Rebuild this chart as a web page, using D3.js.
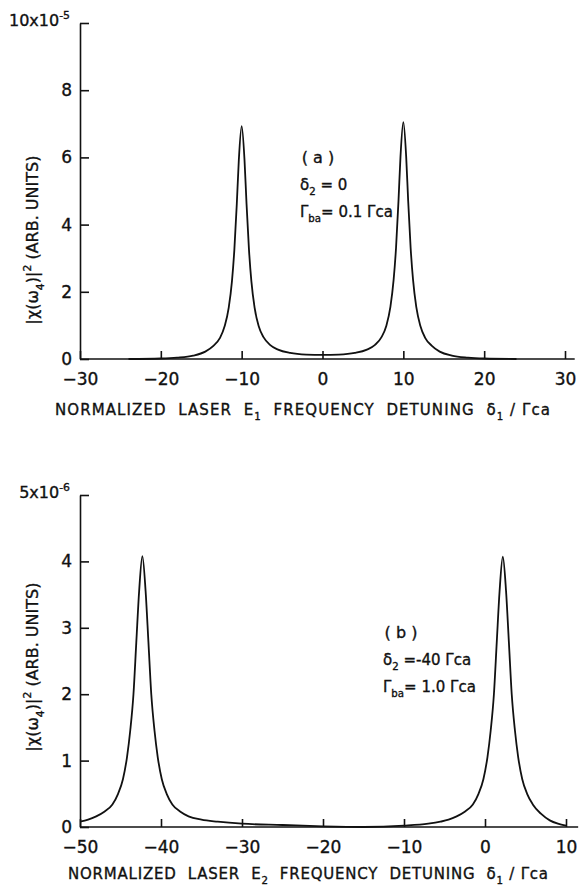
<!DOCTYPE html>
<html>
<head>
<meta charset="utf-8">
<script src="https://cdnjs.cloudflare.com/ajax/libs/d3/7.8.5/d3.min.js"></script>
<style>
  body { margin: 0; background: #fff; }
  svg { display: block; }
  text { font-family: "DejaVu Sans", sans-serif; fill: #111; stroke: #111; stroke-width: 0.35; }
  .domain, .tick line { stroke: #111; stroke-width: 1.6; }
</style>
</head>
<body>
<div class="chart"></div>
<script>
// panel (a): delta2 = 0, Gamma_ba = 0.1 Gamma_ca   (y in units of 1e-5)
var xA = [-24, -20, -18, -16, -14.5, -13.5, -12.7, -12.1, -11.6, -11.2, -10.9, -10.6, -10.35, -10,
          -9.65, -9.4, -9.1, -8.8, -8.4, -7.9, -7.3, -6.5, -5.5, -4, -2, 0,
          2, 4, 5.5, 6.5, 7.3, 7.9, 8.4, 8.8, 9.1, 9.4, 9.65, 10,
          10.35, 10.6, 10.9, 11.2, 11.6, 12.1, 12.7, 13.5, 14.5, 16, 18, 20, 24];
var yA = [0, 0.015, 0.04, 0.1, 0.22, 0.39, 0.62, 0.98, 1.53, 2.32, 3.27, 4.63, 5.93, 6.93,
          5.93, 4.63, 3.27, 2.32, 1.53, 0.98, 0.65, 0.42, 0.28, 0.18, 0.13, 0.12,
          0.13, 0.18, 0.28, 0.42, 0.65, 0.99, 1.55, 2.36, 3.32, 4.7, 6.03, 7.05,
          6.03, 4.7, 3.32, 2.36, 1.55, 0.99, 0.63, 0.4, 0.22, 0.1, 0.04, 0.015, 0];

// panel (b): delta2 = -40 Gamma_ca, Gamma_ba = 1.0 Gamma_ca   (y in units of 1e-6)
var xB = [-50, -49, -48, -47, -46, -45.3, -44.7, -44.2, -43.8, -43.4, -43.05, -42.7, -42.3,
          -41.9, -41.55, -41.2, -40.8, -40.4, -39.9, -39.3, -38.6, -37.6, -36.6, -35, -33, -30, -25, -20, -15,
          -10, -7, -5.5, -4.5, -3.5, -2.5, -1.5, -0.8, -0.2, 0.3, 0.7, 1.1, 1.45, 1.8, 2.2,
          2.6, 2.95, 3.3, 3.7, 4.1, 4.6, 5.2, 5.9, 6.9, 8, 9, 10];
var yB = [0.08, 0.11, 0.16, 0.23, 0.34, 0.5, 0.72, 1.05, 1.45, 2.0, 2.78, 3.55, 4.08,
          3.55, 2.78, 2.0, 1.45, 1.05, 0.72, 0.5, 0.34, 0.23, 0.16, 0.11, 0.08, 0.05, 0.03, 0.01, 0,
          0.02, 0.05, 0.08, 0.11, 0.16, 0.23, 0.34, 0.5, 0.72, 1.05, 1.45, 2.0, 2.78, 3.55, 4.07,
          3.55, 2.78, 2.0, 1.45, 1.05, 0.72, 0.5, 0.34, 0.2, 0.1, 0.05, 0.02];

var xTicksA = [-30, -20, -10, 0, 10, 20, 30];
var yTicksA = [0, 2, 4, 6, 8, 10];
var xTicksB = [-50, -40, -30, -20, -10, 0, 10];
var yTicksB = [0, 1, 2, 3, 4, 5];

var svg = d3.select('.chart').append('svg')
            .attr('width', 579)
            .attr('height', 888);

// writes a text made of [string, 'sub'|'sup'|undefined] pieces
function rich(g, parts, size) {
  var t = g.append('text').attr('font-size', size).style('white-space', 'pre');
  var cur = 0;
  parts.forEach(function(p) {
    var shift = p[1] === 'sub' ? size * 0.35 : (p[1] === 'sup' ? -size * 0.45 : 0);
    t.append('tspan')
      .attr('font-size', p[1] ? size * 0.68 : size)
      .attr('dy', shift - cur)
      .text(p[0]);
    cur = shift;
  });
  return t;
}

function panel(o) {
  var x = d3.scaleLinear().domain(o.xDomain).range([80, o.xRight]);
  var y = d3.scaleLinear().domain(o.yDomain).range([o.yBottom, o.yTop]);
  var g = svg.append('g');

  g.append('g')
    .attr('transform', 'translate(0,' + o.yBottom + ')')
    .call(d3.axisBottom(x).tickValues(o.xTicks).tickSizeInner(-8).tickSizeOuter(0).tickPadding(14))
    .call(function(a) {
      a.selectAll('text').attr('font-size', 17).attr('dy', '0.71em');
      a.select('.domain').attr('d', 'M' + x(o.xDomain[0]) + ',0H' + x(o.xExtend));
    });

  g.append('g')
    .attr('transform', 'translate(80,0)')
    .call(d3.axisLeft(y).tickValues(o.yTicks).tickSizeInner(-9).tickSizeOuter(0).tickPadding(8)
            .tickFormat(function(d) { return d === o.yDomain[1] ? '' : d; }))
    .call(function(a) { a.selectAll('text').attr('font-size', 17); });

  // top tick label with exponent
  rich(g, [[String(o.yDomain[1]) + 'x10'], [o.expo, 'sup']], 16)
    .attr('x', 70).attr('y', y(o.yDomain[1]) + 3).attr('text-anchor', 'end');

  var line = d3.line()
    .x(function(d) { return x(d[0]); })
    .y(function(d) { return y(d[1]); })
    .curve(d3.curveMonotoneX);

  g.append('path')
    .datum(o.xs.map(function(v, i) { return [v, o.ys[i]]; }))
    .attr('d', line)
    .attr('fill', 'none')
    .attr('stroke', '#111')
    .attr('stroke-width', 1.8);

  // x title
  rich(g, o.xTitle, 15)
    .attr('x', o.xTitleX).attr('y', o.xTitleY)
    .attr('textLength', o.xTitleW).attr('lengthAdjust', 'spacing');

  // y title
  rich(g, [['|\u03c7(\u03c9'], ['4', 'sub'], [')|'], ['2', 'sup'], [' (ARB. UNITS)']], 16)
    .attr('text-anchor', 'middle')
    .attr('transform', 'translate(38,' + o.yTitleY + ') rotate(-90)');

  // annotation block
  g.append('text').attr('x', o.noteX + 18).attr('y', o.noteY).attr('font-size', 16)
    .style('white-space', 'pre').attr('text-anchor', 'middle').text(o.label);
  rich(g, o.note1, 15).attr('x', o.noteX).attr('y', o.noteY + 27);
  rich(g, o.note2, 15).attr('x', o.noteX).attr('y', o.noteY + 54);
}

panel({
  xs: xA, ys: yA, xTicks: xTicksA, yTicks: yTicksA,
  xDomain: [-30, 30], xRight: 565, xExtend: 31.2,
  yDomain: [0, 10], yBottom: 359, yTop: 23, expo: '-5',
  xTitle: [['NORMALIZED  LASER  E'], ['1', 'sub'], ['  FREQUENCY  DETUNING  \u03b4'], ['1', 'sub'], [' / \u0393ca']],
  xTitleX: 55, xTitleY: 415, xTitleW: 495,
  yTitleY: 240,
  label: '( a )', noteX: 300, noteY: 163,
  note1: [['\u03b4'], ['2', 'sub'], [' = 0']],
  note2: [['\u0393'], ['ba', 'sub'], ['= 0.1 \u0393ca']]
});

panel({
  xs: xB, ys: yB, xTicks: xTicksB, yTicks: yTicksB,
  xDomain: [-50, 10], xRight: 566, xExtend: 11.5,
  yDomain: [0, 5], yBottom: 827, yTop: 495, expo: '-6',
  xTitle: [['NORMALIZED  LASER  E'], ['2', 'sub'], ['  FREQUENCY  DETUNING  \u03b4'], ['1', 'sub'], [' / \u0393ca']],
  xTitleX: 68, xTitleY: 879, xTitleW: 480,
  yTitleY: 667,
  label: '( b )', noteX: 383, noteY: 638,
  note1: [['\u03b4'], ['2', 'sub'], [' =-40 \u0393ca']],
  note2: [['\u0393'], ['ba', 'sub'], ['= 1.0 \u0393ca']]
});
</script>
</body>
</html>
